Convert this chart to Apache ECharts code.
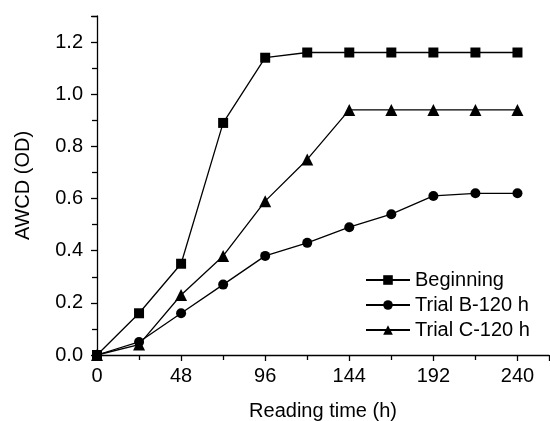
<!DOCTYPE html>
<html>
<head>
<meta charset="utf-8">
<script src="https://cdn.jsdelivr.net/npm/echarts@6/dist/echarts.min.js"></script>
<style>html,body{margin:0;padding:0;background:#fff}#c{width:550px;height:421px}</style>
</head>
<body>
<div id="c"></div>
<script>
const hours = [0, 24, 48, 72, 96, 120, 144, 168, 192, 216, 240];
const beginning = [0, 0.16, 0.35, 0.89, 1.14, 1.16, 1.16, 1.16, 1.16, 1.16, 1.16];
const trialB = [0, 0.05, 0.16, 0.27, 0.38, 0.43, 0.49, 0.54, 0.61, 0.62, 0.62];
const trialC = [0, 0.04, 0.23, 0.38, 0.59, 0.75, 0.94, 0.94, 0.94, 0.94, 0.94];
const seriesNames = ['Beginning', 'Trial B-120 h', 'Trial C-120 h'];

const pair = arr => hours.map((h, i) => [h, arr[i]]);
const font = 'Liberation Sans, Arial, sans-serif';
const mk = (name, data, symbol, size) => ({
  name, type: 'line', data: pair(data), symbol, symbolSize: size,
  itemStyle: {color: '#000'}, lineStyle: {color: '#000', width: 1.3},
  emphasis: {disabled: true}, animation: false
});
const chart = echarts.init(document.getElementById('c'));
chart.setOption({
  animation: false,
  grid: {left: 97, top: 16, right: 1, bottom: 66, containLabel: false, outerBoundsMode: 'none'},
  legend: {
    orient: 'vertical', left: 360, top: 264, itemGap: 3,
    itemWidth: 44, itemHeight: 12,
    textStyle: {fontFamily: font, fontSize: 20, lineHeight: 22, color: '#000'},
    data: seriesNames
  },
  xAxis: {
    type: 'value', min: 0, max: 258, interval: 48,
    name: 'Reading time (h)', nameLocation: 'middle', nameGap: 46,
    nameTextStyle: {fontFamily: font, fontSize: 20, color: '#000'},
    axisLine: {onZero: false, lineStyle: {color: '#000', width: 1.3}},
    axisTick: {inside: false, length: 6, lineStyle: {color: '#000', width: 1.3}},
    minorTick: {show: true, splitNumber: 2, length: 5, lineStyle: {color: '#000', width: 1.3}},
    axisLabel: {fontFamily: font, fontSize: 20, color: '#000', margin: 11, showMaxLabel: false},
    splitLine: {show: false}
  },
  yAxis: {
    type: 'value', min: 0, max: 1.3, interval: 0.2,
    name: 'AWCD (OD)', nameLocation: 'middle', nameGap: 64,
    nameTextStyle: {fontFamily: font, fontSize: 20, color: '#000'},
    axisLine: {onZero: false, lineStyle: {color: '#000', width: 1.3}},
    axisTick: {inside: false, length: 6, lineStyle: {color: '#000', width: 1.3}},
    minorTick: {show: true, splitNumber: 2, length: 5, lineStyle: {color: '#000', width: 1.3}},
    axisLabel: {fontFamily: font, fontSize: 20, color: '#000', margin: 14, showMaxLabel: false,
      formatter: v => v.toFixed(1)},
    splitLine: {show: false}
  },
  series: [
    mk(seriesNames[0], beginning, 'rect', 10),
    mk(seriesNames[1], trialB, 'circle', 10),
    mk(seriesNames[2], trialC, 'triangle', 12)
  ]
});
</script>
</body>
</html>
